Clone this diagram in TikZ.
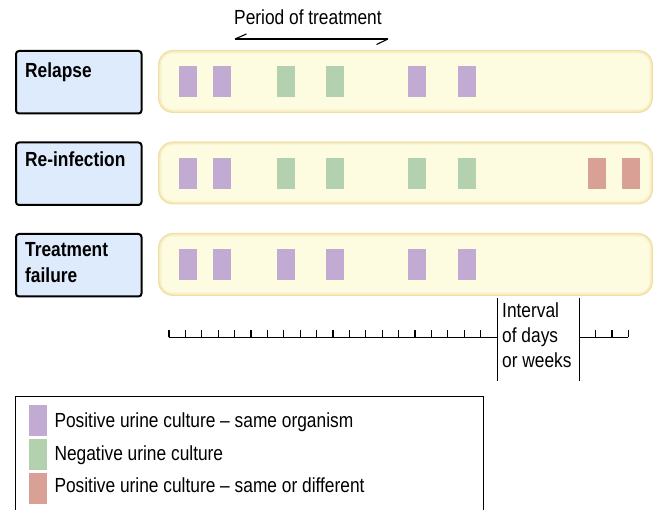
\documentclass[tikz,border=0pt]{standalone}
\usepackage{fontspec}
\setmainfont{Liberation Sans}[FakeStretch=0.85]
\definecolor{purp}{HTML}{C2ABD3}
\definecolor{gren}{HTML}{B3D1AE}
\definecolor{redd}{HTML}{D9A095}
\definecolor{labfill}{HTML}{DEEBFC}
\definecolor{bandA}{HTML}{F1E0A4}
\definecolor{bandB}{HTML}{F6EBBF}
\definecolor{bandC}{HTML}{FAF5D2}
\definecolor{bandD}{HTML}{FDFCE0}
\tikzset{
  txt/.style={inner sep=0pt, font=\fontsize{20.4}{25}\selectfont},
  btxt/.style={inner sep=0pt, font=\fontsize{20.4}{26.5}\selectfont\bfseries},
  labbox/.style={draw=black, line width=2pt, fill=labfill, rounded corners=3pt,
    minimum width=125.5pt, minimum height=62.5pt, inner sep=0pt},
  sq/.style={minimum width=18pt, minimum height=31pt, inner sep=0pt, draw=none},
  thin/.style={line width=1.1pt, black},
}
\newcommand{\band}[3]{% name, top y, bottom y
  \fill[bandA, rounded corners=15pt] (158,#2) rectangle (653,#3);
  \fill[bandB, rounded corners=13.8pt] (159.2,#2+1.2) rectangle (651.8,#3-1.2);
  \fill[bandC, rounded corners=12.6pt] (160.4,#2+2.4) rectangle (650.6,#3-2.4);
  \fill[bandD, rounded corners=11.4pt] (161.6,#2+3.6) rectangle (649.4,#3-3.6);
  \coordinate (#1) at (405.5,{(#2+#3)/2});
}
\begin{document}
\begin{tikzpicture}[x=1pt,y=-1pt]
\useasboundingbox (0,0) rectangle (656,510);

% period of treatment
\node[txt, anchor=base west] (period) at (234,25) {Period of treatment};
\coordinate (pl) at (235,39);
\coordinate (pr) at (388,39);
\draw[thin] (pl) -- (pr);
\draw[thin] (pl) -- ++(11.5,-5);
\draw[thin] (pr) -- ++(-11.5,5.5);

% label boxes
\node[labbox, anchor=north west] (boxR) at (15,50) {};
\node[labbox, anchor=north west] (boxI) at (15,141.5) {};
\node[labbox, anchor=north west] (boxT) at (15,233) {};
\node[btxt, anchor=base west] (labR) at (25,77.3) {Relapse};
\node[btxt, anchor=base west] (labI) at (25,167) {Re-infection};
\node[btxt, anchor=north west, align=left] (labT) at (25,242) {Treatment\\failure};

% bands
\band{bandR}{50}{113}
\band{bandI}{141.5}{204.5}
\band{bandT}{233}{296}

% squares
\foreach \x/\c [count=\i] in {179/purp,213/purp,277/gren,326/gren,408/purp,458/purp}
  \node[sq, fill=\c] (sR\i) at (\x+9,81.5) {};
\foreach \x/\c [count=\i] in {179/purp,213/purp,277/gren,326/gren,408/gren,458/gren,588/redd,622/redd}
  \node[sq, fill=\c] (sI\i) at (\x+9,173.5) {};
\foreach \x/\c [count=\i] in {179/purp,213/purp,277/purp,326/purp,408/purp,458/purp}
  \node[sq, fill=\c] (sT\i) at (\x+9,264.5) {};

% timeline
\coordinate (tl0) at (169,337.5);
\coordinate (tl1) at (497.5,337.5);
\coordinate (tr0) at (579.5,337.5);
\coordinate (tr1) at (628.2,337.5);
\draw[thin] (tl0) -- (tl1);
\draw[thin] (tr0) -- (tr1);
\foreach \k in {0,...,19}
  \draw[thin] (169+16.4*\k,337.5) -- ++(0,-7.5);
\foreach \k in {1,2,3}
  \draw[thin] (579.5+16.23*\k,337.5) -- ++(0,-7.5);
\coordinate (b1t) at (497.5,298);
\coordinate (b1b) at (497.5,381);
\coordinate (b2t) at (579.5,298);
\coordinate (b2b) at (579.5,381);
\draw[thin] (b1t) -- (b1b);
\draw[thin] (b2t) -- (b2b);
\node[txt, anchor=north west, align=left] (interval) at (502,302.5) {Interval\\of days\\or weeks};

% legend
\draw[line width=1pt] (15.5,515) -- (15.5,396.5) -- (483,396.5) -- (483,515);
\node[sq, fill=purp, anchor=north west] (lg1) at (29,405) {};
\node[sq, fill=gren, anchor=north west] (lg2) at (29,439) {};
\node[sq, fill=redd, anchor=north west] (lg3) at (29,473) {};
\node[txt, anchor=base west] (lt1) at (54.3,428) {Positive urine culture – same organism};
\node[txt, anchor=base west] (lt2) at (54.3,460.5) {Negative urine culture};
\node[txt, anchor=base west] (lt3) at (54.3,492) {Positive urine culture – same or different};
\end{tikzpicture}
\end{document}
